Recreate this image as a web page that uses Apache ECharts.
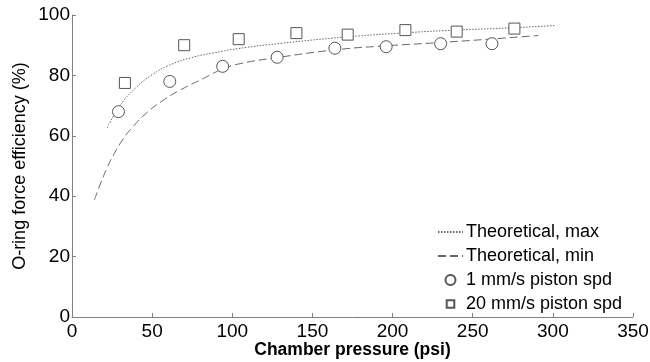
<!DOCTYPE html>
<html>
<head>
<meta charset="utf-8">
<script src="https://cdn.jsdelivr.net/npm/echarts@6/dist/echarts.min.js"></script>
<style>
  html, body { margin: 0; padding: 0; background: #fff; }
  #chart { width: 650px; height: 362px; }
</style>
</head>
<body>
<div id="chart"></div>
<script>
// Theoretical curves as [pressure, efficiency]
const theoMax = [
  [22, 62.6], [30, 70], [40, 76], [50, 80.2], [60, 83.2], [74, 85.8], [88, 87.4],
  [104, 88.9], [130, 90.6], [171, 92.7], [211, 94.2], [240, 95], [276, 95.8], [301, 96.5]
];
const theoMin = [
  [14, 38.8], [18, 44.5], [22, 49.5], [26, 53.8], [32, 59], [38, 63], [47, 67.8],
  [57, 71.8], [67, 75], [82, 79], [94, 82.1], [105, 83.9], [128, 85.9], [165, 88.5],
  [196, 89.8], [230, 90.9], [263, 92.1], [291, 93.2]
];
// Measured points
const pressure1 = [29, 61, 94, 128, 164, 196, 230, 262];
const eff1 = [68, 78, 83, 86, 89, 89.5, 90.5, 90.5];
const pressure20 = [33, 70, 104, 140, 172, 208, 240, 276];
const eff20 = [77.5, 90, 92, 94, 93.5, 95, 94.5, 95.5];

const FONT = 'Arial, "Liberation Sans", sans-serif';
const GREY = '#666';
const SQUARE = 'path://M0,0H10V10H0Z';
// smaller square for the legend: the outer moveTo keeps the box 10x10
const SQUARE_SMALL = 'path://M0,0M10,10M1.2,1.2H8.8V8.8H1.2Z';

const chart = echarts.init(document.getElementById('chart'), null, { renderer: 'canvas' });

const axisCommon = {
  axisLine: { show: true, lineStyle: { color: '#808080', width: 1 } },
  axisTick: { show: true, inside: true, length: 4, lineStyle: { color: '#808080' } },
  splitLine: { show: false },
  axisLabel: { color: '#000', fontSize: 19, fontFamily: FONT },
  nameLocation: 'middle',
  nameMoveOverlap: false,
};

chart.setOption({
  animation: false,
  backgroundColor: '#fff',
  grid: { left: 72, right: 17, top: 15, bottom: 45, outerBoundsMode: 'none', containLabel: false },
  xAxis: {
    ...axisCommon,
    type: 'value', min: 0, max: 350, interval: 50,
    axisLabel: { ...axisCommon.axisLabel, margin: 5 },
    name: 'Chamber pressure (psi)',
    nameGap: 24,
    nameTextStyle: { color: '#000', fontSize: 17.5, fontWeight: 'bold', fontFamily: FONT },
  },
  yAxis: {
    ...axisCommon,
    type: 'value', min: 0, max: 100, interval: 20,
    axisLabel: { ...axisCommon.axisLabel, margin: 2 },
    name: 'O-ring force efficiency (%)',
    nameGap: 43,
    nameTextStyle: { color: '#000', fontSize: 18, fontFamily: FONT },
  },
  legend: {
    orient: 'vertical',
    left: 437,
    top: 223,
    padding: 0,
    itemWidth: 25,
    itemHeight: 10,
    itemGap: 6,
    symbolKeepAspect: true,
    textStyle: { color: '#000', fontSize: 18, fontFamily: FONT, padding: [0, 0, 0, -2] },
    data: [
      { name: 'Theoretical, max', itemStyle: { opacity: 0 } },
      { name: 'Theoretical, min', itemStyle: { opacity: 0 } },
      { name: '1 mm/s piston spd' },
      { name: '20 mm/s piston spd', icon: SQUARE_SMALL },
    ],
  },
  series: [
    {
      name: 'Theoretical, max',
      type: 'line',
      data: theoMax,
      smooth: true,
      symbol: 'none',
      color: GREY,
      lineStyle: { color: GREY, width: 1, type: [1.5, 1.5] },
    },
    {
      name: 'Theoretical, min',
      type: 'line',
      data: theoMin,
      smooth: true,
      symbol: 'none',
      color: GREY,
      lineStyle: { color: GREY, width: 1, type: [8, 4] },
    },
    {
      name: '1 mm/s piston spd',
      type: 'scatter',
      data: pressure1.map((p, i) => [p, eff1[i]]),
      symbol: 'circle',
      symbolSize: 12,
      itemStyle: { color: '#fff', borderColor: '#555', borderWidth: 1, opacity: 1 },
      z: 3,
    },
    {
      name: '20 mm/s piston spd',
      type: 'scatter',
      data: pressure20.map((p, i) => [p, eff20[i]]),
      symbol: SQUARE,
      symbolSize: 11,
      symbolKeepAspect: true,
      itemStyle: { color: '#fff', borderColor: '#555', borderWidth: 1, opacity: 1 },
      z: 3,
    },
  ],
});
</script>
</body>
</html>
